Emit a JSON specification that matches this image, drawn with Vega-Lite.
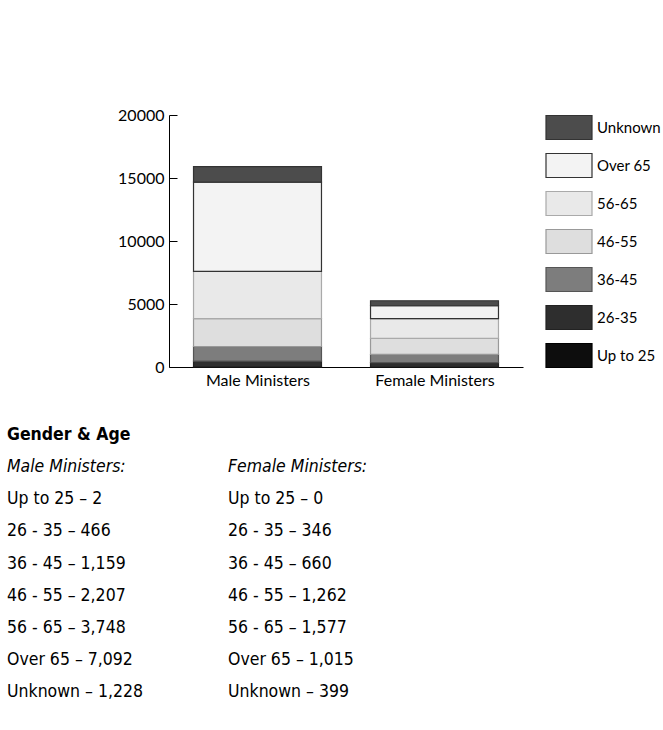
{
  "$schema": "https://vega.github.io/schema/vega-lite/v6.json",
  "width": 354,
  "height": 252,
  "autosize": {"type": "none"},
  "padding": {"left": 169, "top": 115, "right": 140, "bottom": 363},
  "background": "white",
  "config": {
    "view": {"stroke": null},
    "axis": {"domainColor": "#000", "tickColor": "#000", "labelColor": "#000", "labelFont": "Lato", "labelFontSize": 16, "grid": false, "title": null}
  },
  "data": {
    "values": [
      {"group": "Male Ministers", "age": "Up to 25", "count": 2},
      {"group": "Male Ministers", "age": "26-35", "count": 466},
      {"group": "Male Ministers", "age": "36-45", "count": 1159},
      {"group": "Male Ministers", "age": "46-55", "count": 2207},
      {"group": "Male Ministers", "age": "56-65", "count": 3748},
      {"group": "Male Ministers", "age": "Over 65", "count": 7092},
      {"group": "Male Ministers", "age": "Unknown", "count": 1228},
      {"group": "Female Ministers", "age": "Up to 25", "count": 0},
      {"group": "Female Ministers", "age": "26-35", "count": 346},
      {"group": "Female Ministers", "age": "36-45", "count": 660},
      {"group": "Female Ministers", "age": "46-55", "count": 1262},
      {"group": "Female Ministers", "age": "56-65", "count": 1577},
      {"group": "Female Ministers", "age": "Over 65", "count": 1015},
      {"group": "Female Ministers", "age": "Unknown", "count": 399}
    ]
  },
  "layer": [
    {
      "transform": [
        {"calculate": "indexof(['Up to 25', '26-35', '36-45', '46-55', '56-65', 'Over 65', 'Unknown'], datum.age)", "as": "stackOrder"}
      ],
      "mark": {"type": "bar", "strokeWidth": 1.2},
      "encoding": {
        "x": {
          "field": "group", "type": "nominal",
          "sort": ["Male Ministers", "Female Ministers"],
          "scale": {"paddingInner": 0.277, "paddingOuter": 0.1385},
          "axis": {"labelAngle": 0, "tickBand": "extent", "tickSize": -8, "labelPadding": 13}
        },
        "y": {
          "field": "count", "type": "quantitative", "stack": "zero",
          "scale": {"domain": [0, 20000]},
          "axis": {"values": [0, 5000, 10000, 15000, 20000], "format": "d", "tickSize": -8, "labelPadding": 13}
        },
        "order": {"field": "stackOrder", "type": "quantitative", "sort": "ascending"},
        "color": {
          "field": "age", "type": "nominal",
          "sort": ["Unknown", "Over 65", "56-65", "46-55", "36-45", "26-35", "Up to 25"],
          "scale": {
            "range": ["#4c4c4c", "#f3f3f3", "#e9e9e9", "#dedede", "#7d7d7d", "#2e2e2e", "#0d0d0d"]
          },
          "legend": {
            "title": null, "orient": "right", "offset": 22, "padding": 0,
            "symbolType": "M-1,-1.0435H3V1.0435H-1Z", "symbolSize": 529, "symbolStrokeWidth": 1.2,
            "symbolOpacity": 1,
            "labelFont": "Lato", "labelFontSize": 15, "labelColor": "#000", "labelOffset": 27,
            "rowPadding": 9,
            "encode": {"symbols": {"update": {"stroke": {"scale": "stroke", "field": "value"}}}}
          }
        },
        "stroke": {
          "field": "age", "type": "nominal",
          "sort": ["Unknown", "Over 65", "56-65", "46-55", "36-45", "26-35", "Up to 25"],
          "scale": {
            "range": ["#333333", "#333333", "#aaaaaa", "#999999", "#555555", "#222222", "#000000"]
          },
          "legend": null
        }
      }
    },
    {
      "layer": [
        {
          "data": {"values": [{"group": "Male Ministers", "row": "title", "text": "Gender & Age"}]},
          "mark": {"type": "text", "font": "DejaVu Sans Condensed, sans-serif", "fontWeight": "bold", "fontSize": 17.5, "align": "left", "baseline": "alphabetic", "color": "#000"},
          "encoding": {
            "x": {"field": "group", "type": "nominal", "scale": {"type": "point", "padding": 0, "domain": ["Male Ministers", "Female Ministers"], "range": [-162, 59]}, "axis": null},
            "y": {"field": "row", "type": "nominal", "scale": {"type": "point", "padding": 0, "domain": ["title", "heading", "Up to 25", "26-35", "36-45", "46-55", "56-65", "Over 65", "Unknown"], "range": [325, 582]}, "axis": null},
            "text": {"field": "text"}
          }
        },
        {
          "data": {"values": [
            {"group": "Male Ministers", "row": "heading", "text": "Male Ministers:"},
            {"group": "Female Ministers", "row": "heading", "text": "Female Ministers:"}
          ]},
          "mark": {"type": "text", "font": "DejaVu Sans Condensed, sans-serif", "fontStyle": "italic", "fontSize": 17.5, "align": "left", "baseline": "alphabetic", "color": "#000"},
          "encoding": {
            "x": {"field": "group", "type": "nominal", "scale": {"type": "point", "padding": 0, "domain": ["Male Ministers", "Female Ministers"], "range": [-162, 59]}, "axis": null},
            "y": {"field": "row", "type": "nominal", "scale": {"type": "point", "padding": 0, "domain": ["title", "heading", "Up to 25", "26-35", "36-45", "46-55", "56-65", "Over 65", "Unknown"], "range": [325, 582]}, "axis": null},
            "text": {"field": "text"}
          }
        },
        {
          "transform": [
            {"calculate": "datum.age", "as": "row"},
            {"calculate": "replace(datum.age, '-', ' - ') + ' – ' + format(datum.count, ',')", "as": "line"}
          ],
          "mark": {"type": "text", "font": "DejaVu Sans Condensed, sans-serif", "fontSize": 17.5, "align": "left", "baseline": "alphabetic", "color": "#000"},
          "encoding": {
            "x": {"field": "group", "type": "nominal", "scale": {"type": "point", "padding": 0, "domain": ["Male Ministers", "Female Ministers"], "range": [-162, 59]}, "axis": null},
            "y": {"field": "row", "type": "nominal", "scale": {"type": "point", "padding": 0, "domain": ["title", "heading", "Up to 25", "26-35", "36-45", "46-55", "56-65", "Over 65", "Unknown"], "range": [325, 582]}, "axis": null},
            "text": {"field": "line"}
          }
        }
      ]
    }
  ],
  "resolve": {"scale": {"x": "independent", "y": "independent"}}
}
